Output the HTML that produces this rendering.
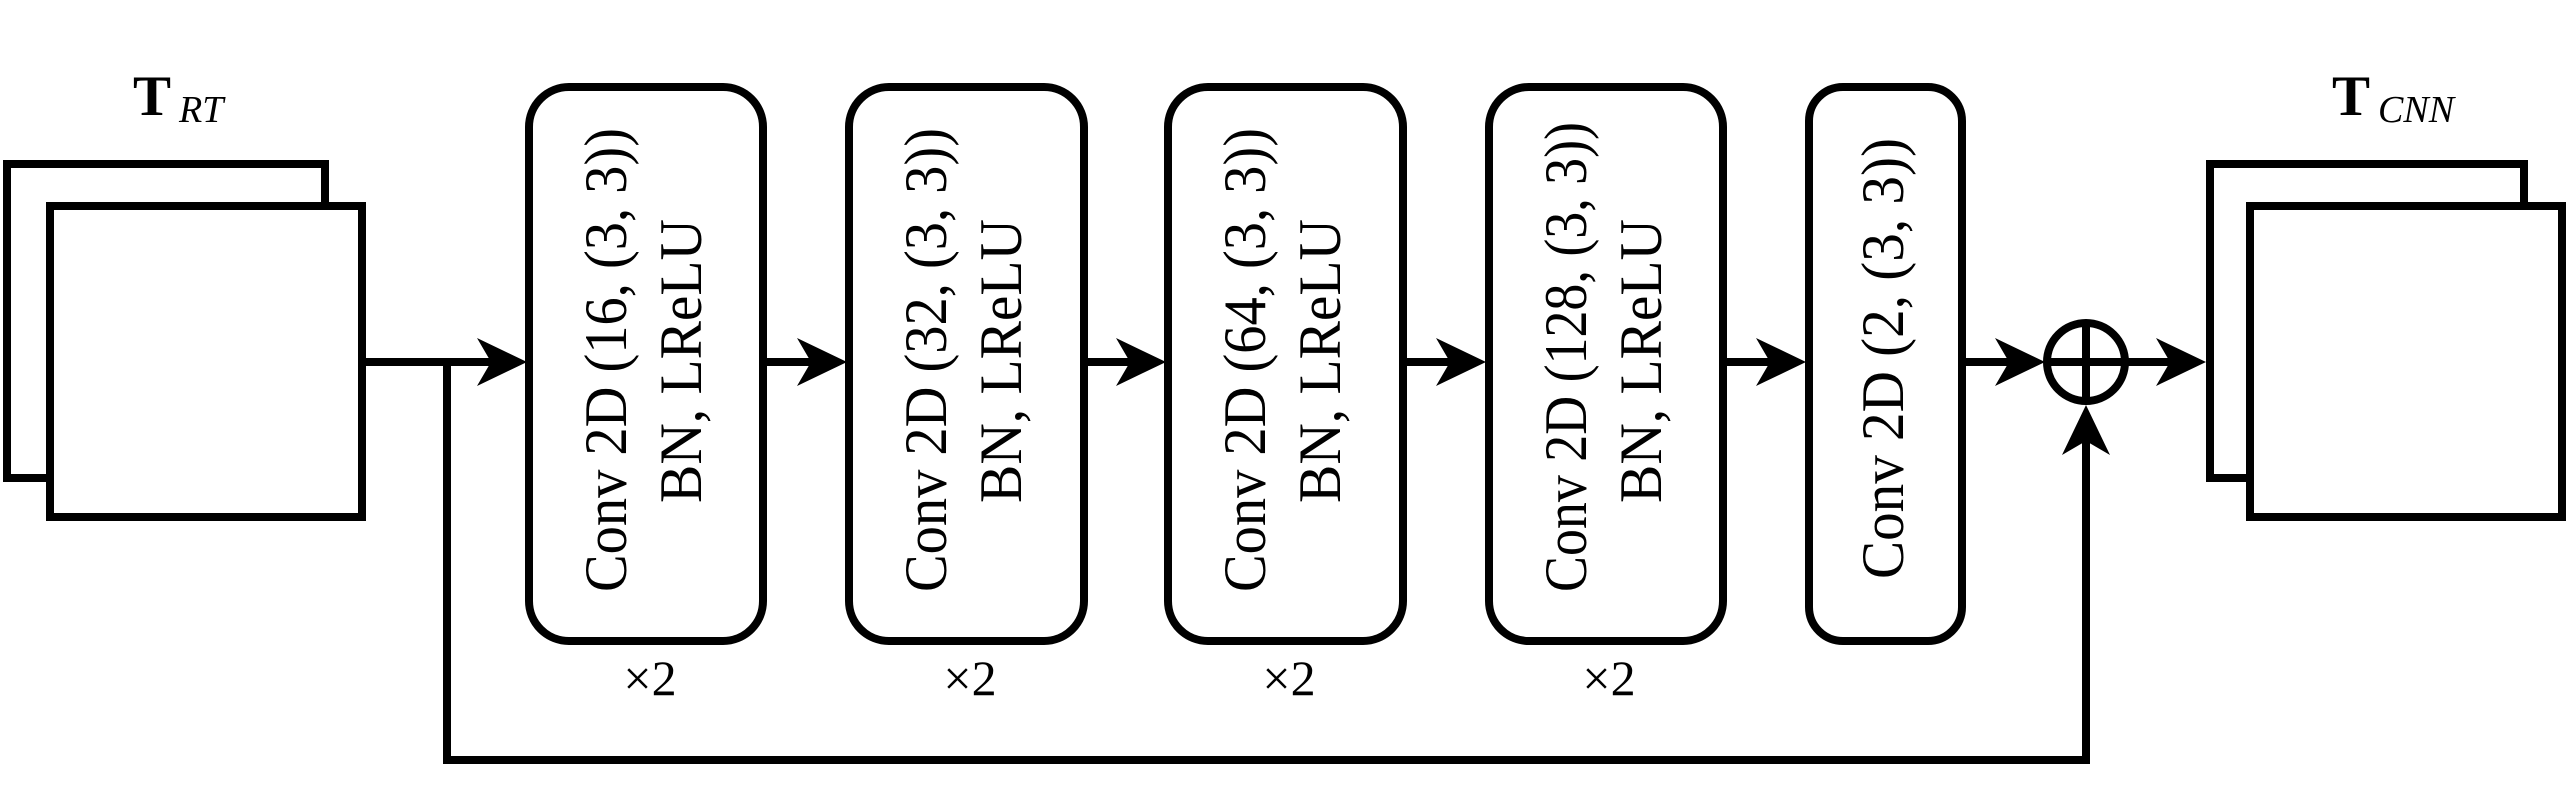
<!DOCTYPE html>
<html><head><meta charset="utf-8"><style>
html,body{margin:0;padding:0;background:#fff;}
svg{display:block;}
text{font-family:"Liberation Serif",serif;fill:#000;}
</style></head><body>
<svg width="2568" height="800" viewBox="0 0 2568 800" xmlns="http://www.w3.org/2000/svg">
<defs>
<path id="ah" d="M0,0 L-50,-24 L-36,0 L-50,24 Z" fill="#000"/>
</defs>
<g fill="#fff" stroke="#000" stroke-width="8">
<!-- left tensor -->
<rect x="7" y="164" width="318" height="314"/>
<rect x="50" y="206" width="312" height="311"/>
<!-- right tensor -->
<rect x="2210" y="164" width="314" height="314"/>
<rect x="2250" y="206" width="312" height="311"/>
<!-- boxes -->
<rect x="529" y="87" width="234" height="554" rx="40"/>
<rect x="849" y="87" width="235" height="554" rx="40"/>
<rect x="1168" y="87" width="235" height="554" rx="40"/>
<rect x="1489" y="87" width="234" height="554" rx="40"/>
<rect x="1809" y="87" width="153" height="554" rx="34"/>
</g>
<g stroke="#000" stroke-width="8" fill="none">
<line x1="362" y1="362" x2="500" y2="362"/>
<line x1="763" y1="362" x2="820" y2="362"/>
<line x1="1084" y1="362" x2="1140" y2="362"/>
<line x1="1403" y1="362" x2="1460" y2="362"/>
<line x1="1723" y1="362" x2="1780" y2="362"/>
<line x1="1962" y1="362" x2="2020" y2="362"/>
<line x1="2127" y1="362" x2="2180" y2="362"/>
<polyline points="447,362 447,760 2086,760 2086,430"/>
<circle cx="2086" cy="362" r="39"/>
<line x1="2047" y1="362" x2="2125" y2="362"/>
<line x1="2086" y1="323" x2="2086" y2="401"/>
</g>
<use href="#ah" transform="translate(527,362)"/>
<use href="#ah" transform="translate(847,362)"/>
<use href="#ah" transform="translate(1166,362)"/>
<use href="#ah" transform="translate(1486,362)"/>
<use href="#ah" transform="translate(1806,362)"/>
<use href="#ah" transform="translate(2045,362)"/>
<use href="#ah" transform="translate(2206,362)"/>
<use href="#ah" transform="translate(2086,405) rotate(-90)"/>
<!-- titles -->
<text x="133" y="115" font-size="57" font-weight="bold">T</text>
<text x="179" y="122" font-size="38" font-style="italic">RT</text>
<text x="2332" y="115" font-size="57" font-weight="bold">T</text>
<text x="2378" y="122" font-size="38" font-style="italic">CNN</text>
<!-- box texts -->
<g font-size="60">
<text transform="translate(626,592) rotate(-90)" textLength="464" lengthAdjust="spacingAndGlyphs">Conv 2D (16, (3, 3))</text>
<text transform="translate(701,503) rotate(-90)" textLength="284" lengthAdjust="spacingAndGlyphs">BN, LReLU</text>
<text transform="translate(946,592) rotate(-90)" textLength="464" lengthAdjust="spacingAndGlyphs">Conv 2D (32, (3, 3))</text>
<text transform="translate(1021,503) rotate(-90)" textLength="284" lengthAdjust="spacingAndGlyphs">BN, LReLU</text>
<text transform="translate(1265,592) rotate(-90)" textLength="464" lengthAdjust="spacingAndGlyphs">Conv 2D (64, (3, 3))</text>
<text transform="translate(1340,503) rotate(-90)" textLength="284" lengthAdjust="spacingAndGlyphs">BN, LReLU</text>
<text transform="translate(1586,592) rotate(-90)" textLength="470" lengthAdjust="spacingAndGlyphs">Conv 2D (128, (3, 3))</text>
<text transform="translate(1661,503) rotate(-90)" textLength="284" lengthAdjust="spacingAndGlyphs">BN, LReLU</text>
<text transform="translate(1903,579) rotate(-90)" textLength="441" lengthAdjust="spacingAndGlyphs">Conv 2D (2, (3, 3))</text>
</g>
<g font-size="50" text-anchor="middle">
<text x="650" y="695">×2</text>
<text x="970" y="695">×2</text>
<text x="1289" y="695">×2</text>
<text x="1609" y="695">×2</text>
</g>
</svg>
</body></html>
